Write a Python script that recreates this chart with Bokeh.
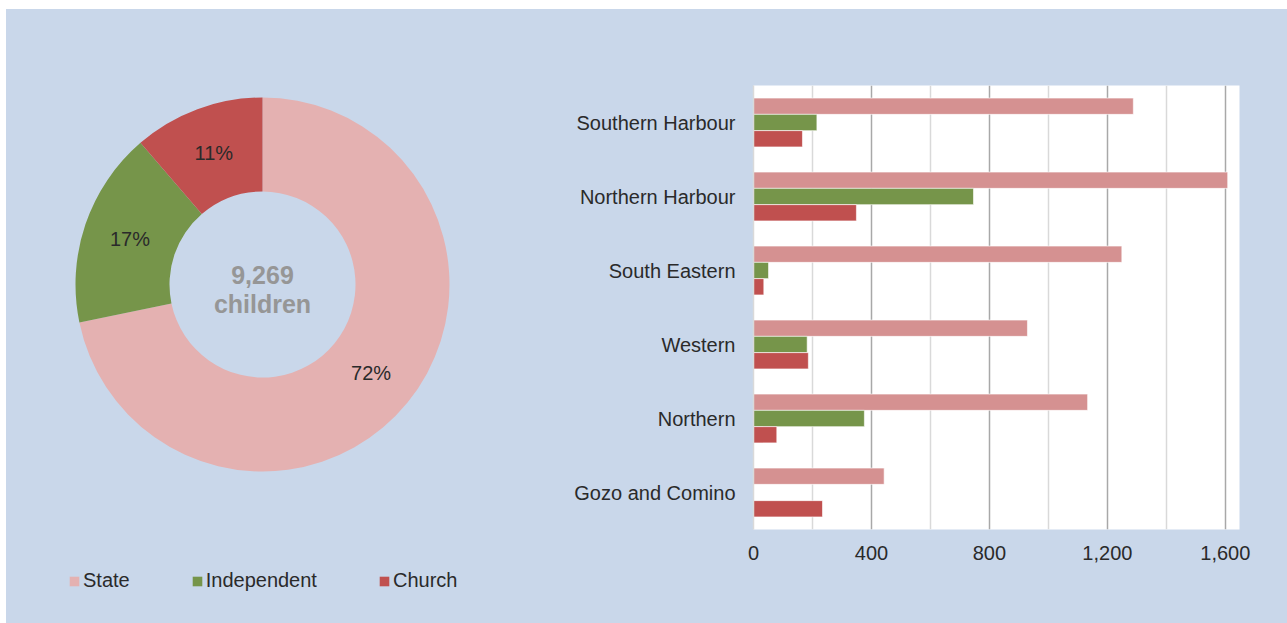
import math
from bokeh.plotting import figure
from bokeh.models import (Range1d, FactorRange, ColumnDataSource, FixedTicker,
                          NumeralTickFormatter)
from bokeh.transform import dodge
from bokeh.layouts import row
from bokeh.core.properties import value
from bokeh.embed import file_html
from bokeh.resources import INLINE

# ---------------- data ----------------
REGIONS = ["Southern Harbour", "Northern Harbour", "South Eastern",
           "Western", "Northern", "Gozo and Comino"]
STATE = [1288, 1608, 1249, 929, 1133, 443]
INDEPENDENT = [215, 746, 51, 182, 376, 0]
CHURCH = [166, 349, 35, 186, 79, 234]
SECTORS = ["State", "Independent", "Church"]
X_TICKS = [0, 400, 800, 1200, 1600]
CENTER_WORD = "children"

# ---------------- styles ----------------
PANEL = "#C9D7EA"
PIE_COLORS = ["#E4B1B1", "#76954A", "#C0504F"]
BAR_COLORS = ["#D59191", "#76954A", "#C0504F"]
TXT = "#2A2A2A"
FONT = "Liberation Sans"

H = 614

# ---------------- donut (left) ----------------
totals = [sum(STATE), sum(INDEPENDENT), sum(CHURCH)]
grand = sum(totals)
shares = [t / grand for t in totals]
starts, ends, cum = [], [], 0.0
for s in shares:
    starts.append(math.pi / 2 - 2 * math.pi * cum)
    cum += s
    ends.append(math.pi / 2 - 2 * math.pi * cum)

CX, CY = 262, -284
R_OUT, R_IN = 187, 93
R_MID = (R_OUT + R_IN) / 2

pie_src = ColumnDataSource(dict(
    sector=SECTORS, start=starts, end=ends, color=PIE_COLORS,
    lx=[CX + R_MID * math.cos((a + b) / 2) for a, b in zip(starts, ends)],
    ly=[CY + R_MID * math.sin((a + b) / 2) for a, b in zip(starts, ends)],
    lab=[f"{round(s * 100)}%" for s in shares],
))

p1 = figure(width=554, height=H, x_range=Range1d(6, 560), y_range=Range1d(-623, -9),
            output_backend="svg", toolbar_location=None,
            x_axis_type=None, y_axis_type=None, min_border=0)
p1.frame_align = False
p1.grid.visible = False
p1.outline_line_color = None
p1.background_fill_color = PANEL
p1.border_fill_color = PANEL

p1.annular_wedge(x=CX, y=CY, inner_radius=R_IN, outer_radius=R_OUT,
                 start_angle="start", end_angle="end", direction="clock",
                 fill_color="color", line_color=None, source=pie_src,
                 legend_field="sector")
p1.text(x="lx", y="ly", text="lab", source=pie_src, text_align="center",
        text_baseline="middle", text_font=value(FONT), text_font_size="20px",
        text_color=TXT)
p1.text(x=[CX, CX], y=[CY + 10, CY - 19], text=[f"{grand:,}", CENTER_WORD],
        text_align="center", text_baseline="middle", text_font=value(FONT),
        text_font_size="25px", text_font_style="bold", text_color="#969696")

leg = p1.legend[0]
leg.orientation = "horizontal"
leg.location = (62, 31)
leg.background_fill_alpha = 0
leg.border_line_alpha = 0
leg.padding = 0
leg.margin = 0
leg.spacing = 61
leg.glyph_width = 12
leg.glyph_height = 12
leg.label_standoff = 3
leg.label_text_font = FONT
leg.label_text_font_size = "20px"
leg.label_text_color = TXT

# ---------------- bars (right) ----------------
bar_src = ColumnDataSource(dict(region=REGIONS, State=STATE,
                                Independent=INDEPENDENT, Church=CHURCH))

p2 = figure(width=727, height=H,
            y_range=FactorRange(factors=REGIONS[::-1], range_padding=0),
            x_range=Range1d(0, 1648), output_backend="svg", toolbar_location=None,
            min_border_left=193, min_border_right=48, min_border_top=76,
            min_border_bottom=94)
p2.frame_align = False
p2.outline_line_color = None
p2.background_fill_color = "white"
p2.border_fill_color = PANEL

for sector, off, col in zip(SECTORS, [0.22, 0.0, -0.22], BAR_COLORS):
    p2.hbar(y=dodge("region", off, range=p2.y_range), left=0, right=sector,
            height=0.22, source=bar_src, fill_color=col,
            line_color="white", line_alpha=0.6, line_width=1)

p2.ygrid.visible = False
p2.xgrid.ticker = FixedTicker(
    ticks=X_TICKS[1:],
    minor_ticks=[(a + b) / 2 for a, b in zip(X_TICKS[:-1], X_TICKS[1:])])
p2.xgrid.grid_line_color = "#A8A8A8"
p2.xgrid.grid_line_width = 1.5
p2.xgrid.minor_grid_line_color = "#D9D9D9"
p2.xgrid.minor_grid_line_width = 1.5

xa = p2.xaxis[0]
xa.ticker = FixedTicker(ticks=X_TICKS)
xa.formatter = NumeralTickFormatter(format="0,0")
xa.axis_line_color = None
xa.major_tick_line_color = None
xa.minor_tick_line_color = None
xa.major_label_standoff = 10
xa.major_label_text_font = FONT
xa.major_label_text_font_size = "20px"
xa.major_label_text_color = TXT

ya = p2.yaxis[0]
ya.axis_line_color = "#D9D9D9"
ya.axis_line_width = 1.5
ya.major_tick_line_color = None
ya.minor_tick_line_color = None
ya.major_label_standoff = 12
ya.major_label_text_font = FONT
ya.major_label_text_font_size = "20px"
ya.major_label_text_color = TXT

layout = row(p1, p2, spacing=0, margin=(9, 0, 0, 6),
             styles={"background-color": PANEL})
open("out.html", "w").write(file_html(layout, INLINE))
